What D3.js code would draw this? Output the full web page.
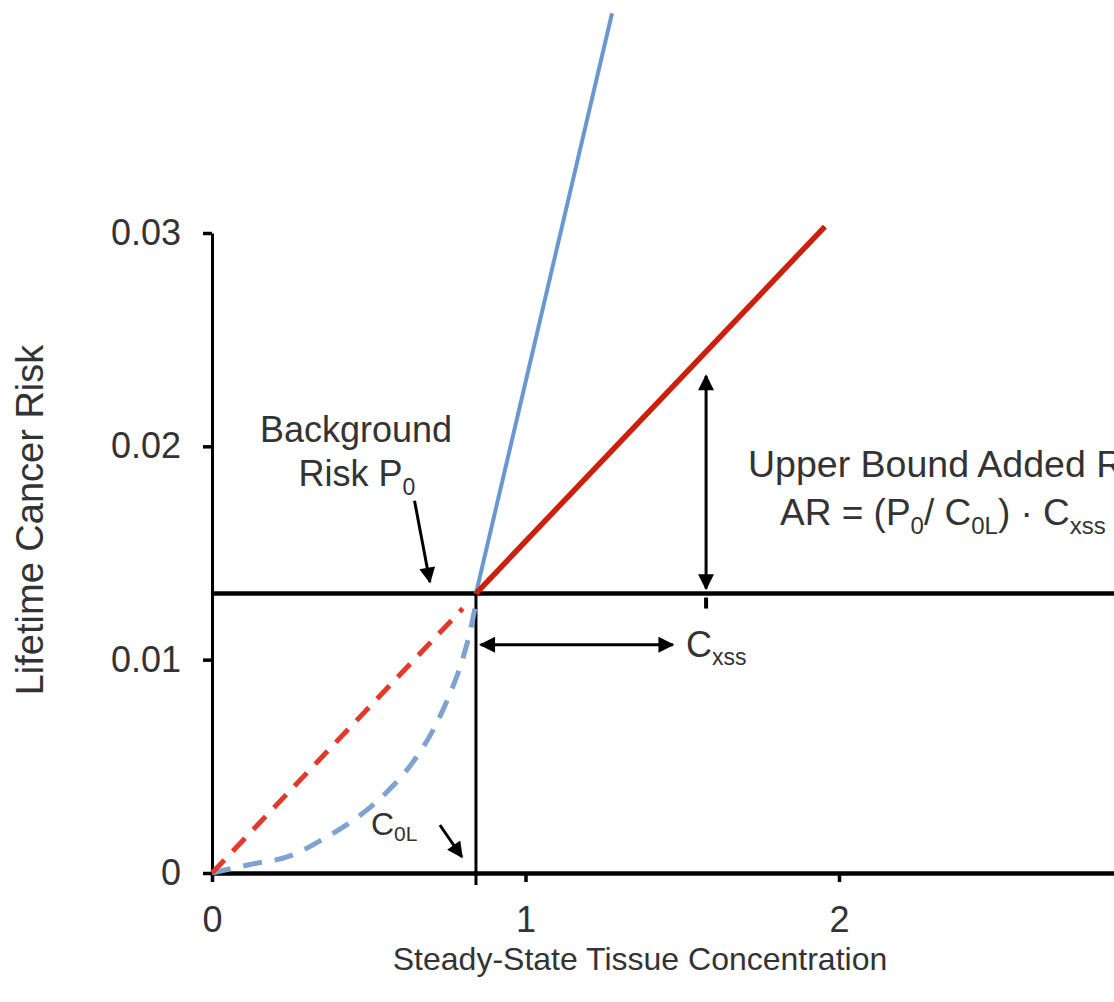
<!DOCTYPE html>
<html>
<head>
<meta charset="utf-8">
<script src="https://cdn.jsdelivr.net/npm/d3@7"></script>
<style>
    body { margin: 0; background: #fff; }
    text { font-family: "Liberation Sans", Arial, sans-serif; fill: #333; }
</style>
</head>
<body>
<div id="chart"></div>
<script>

// * Values
var xTicks = [0, 1, 2];
var yTicks = [0, 0.01, 0.02, 0.03];
var yTickLabels = ["0", "0.01", "0.02", "0.03"];

var P0 = 0.0131;     // background risk
var C0L = 0.842;     // background tissue concentration

var redDashed = [[0, 0], [0.80, 0.0124]];
var redSolid = [[0.842, 0.0131], [1.955, 0.0303]];

var blueDashed = [[0, 0], [0.121, 0.0004], [0.249, 0.0008], [0.367, 0.0017], [0.463, 0.0026],
    [0.558, 0.0038], [0.641, 0.0052], [0.705, 0.0067], [0.759, 0.0084], [0.801, 0.0101],
    [0.829, 0.0117], [0.845, 0.0129]];
var blueSolid = [[0.842, 0.0131], [1.276, 0.0403]];

// annotation anchors (data units)
var arX = 1.576, arTop = 0.0233;
var cxssY = 0.0107, cxssFrom = 0.857, cxssTo = 1.47;


// * Svg
var width = 1114,
    height = 1002;

var svg = d3.select("#chart").append("svg")
    .attr("width", width)
    .attr("height", height);

// *  Scales
var x = d3.scaleLinear().domain([0, 3]).range([212, 212 + 3 * 313.5]);
var y = d3.scaleLinear().domain([0, 0.03]).range([873, 233]);

var line = d3.line()
    .x(function(d) { return x(d[0]); })
    .y(function(d) { return y(d[1]); });

var curve = d3.line()
    .x(function(d) { return x(d[0]); })
    .y(function(d) { return y(d[1]); })
    .curve(d3.curveMonotoneX);

// arrow head
svg.append("defs").append("marker")
    .attr("id", "head")
    .attr("viewBox", "0 0 10 10")
    .attr("refX", 9).attr("refY", 5)
    .attr("markerWidth", 19).attr("markerHeight", 16)
    .attr("markerUnits", "userSpaceOnUse")
    .attr("orient", "auto-start-reverse")
    .append("path")
    .attr("d", "M0,0 L10,5 L0,10 Z")
    .attr("fill", "#000");


// * Axes
var yAxis = svg.append("g")
    .attr("transform", "translate(" + x(0) + ",0)")
    .call(d3.axisLeft(y).tickValues(yTicks)
        .tickFormat(function(d, i) { return yTickLabels[i]; })
        .tickSize(9).tickSizeOuter(0).tickPadding(22));

var xAxis = svg.append("g")
    .attr("transform", "translate(0," + y(0) + ")")
    .call(d3.axisBottom(x).tickValues(xTicks)
        .tickFormat(d3.format("d"))
        .tickSize(9).tickSizeOuter(0).tickPadding(24));

yAxis.select(".domain").attr("stroke", "#000").attr("stroke-width", 3);
xAxis.select(".domain").attr("stroke", "#000").attr("stroke-width", 4.5);
svg.selectAll(".tick line").attr("stroke", "#000").attr("stroke-width", 3.5);
svg.selectAll(".tick text")
    .attr("fill", "#333")
    .style("font-size", "36px")
    .style("font-family", "'Liberation Sans', Arial, sans-serif");

// axis titles
svg.append("text")
    .attr("transform", "translate(43,520) rotate(-90)")
    .attr("text-anchor", "middle")
    .style("font-size", "38px")
    .text("Lifetime Cancer Risk");

svg.append("text")
    .attr("x", 640).attr("y", 970)
    .attr("text-anchor", "middle")
    .style("font-size", "32px")
    .text("Steady-State Tissue Concentration");


// * Reference lines
svg.append("line")
    .attr("x1", x(0)).attr("x2", width)
    .attr("y1", y(P0)).attr("y2", y(P0))
    .attr("stroke", "#000").attr("stroke-width", 4.5);

svg.append("line")
    .attr("x1", x(C0L)).attr("x2", x(C0L))
    .attr("y1", y(P0)).attr("y2", y(0) + 12)
    .attr("stroke", "#000").attr("stroke-width", 3);


// * Curves
svg.append("path").datum(blueDashed)
    .attr("d", curve)
    .attr("fill", "none")
    .attr("stroke", "#7ea3cf").attr("stroke-width", 5)
    .attr("stroke-dasharray", "19,13");

svg.append("path").datum(redDashed)
    .attr("d", line)
    .attr("fill", "none")
    .attr("stroke", "#e2392a").attr("stroke-width", 5)
    .attr("stroke-dasharray", "18,12");

svg.append("path").datum(blueSolid)
    .attr("d", line)
    .attr("fill", "none")
    .attr("stroke", "#6a97d0").attr("stroke-width", 4);

svg.append("path").datum(redSolid)
    .attr("d", line)
    .attr("fill", "none")
    .attr("stroke", "#cc1f0c").attr("stroke-width", 5.5);


// * Annotation arrows
function arrow(x1, y1, x2, y2, both) {
    var a = svg.append("line")
        .attr("x1", x1).attr("y1", y1)
        .attr("x2", x2).attr("y2", y2)
        .attr("stroke", "#000").attr("stroke-width", 3)
        .attr("marker-end", "url(#head)");
    if (both) a.attr("marker-start", "url(#head)");
}

arrow(x(arX), y(arTop), x(arX), y(P0) - 5, true);
arrow(x(cxssFrom), y(cxssY), x(cxssTo), y(cxssY), true);
arrow(x(0.646), y(0.01745), x(0.695), y(0.01364), false);
arrow(x(0.727), y(0.00225), x(0.797), y(0.00075), false);

// little tick under the P0 line
svg.append("line")
    .attr("x1", x(arX)).attr("x2", x(arX))
    .attr("y1", y(P0) + 4).attr("y2", y(P0) + 15)
    .attr("stroke", "#000").attr("stroke-width", 4);


// * Labels
svg.append("text")
    .attr("x", 356).attr("y", 442)
    .attr("text-anchor", "middle")
    .style("font-size", "36px")
    .text("Background");

var risk = svg.append("text")
    .attr("x", 357).attr("y", 486)
    .attr("text-anchor", "middle")
    .style("font-size", "36px");
risk.append("tspan").text("Risk P");
risk.append("tspan").attr("dy", 9).style("font-size", "23px").text("0");

// this label runs past the right edge, as in the source figure
svg.append("text")
    .attr("x", 748).attr("y", 477)
    .style("font-size", "37.5px")
    .text("Upper Bound Added Risk");

var ar = svg.append("text")
    .attr("x", 780).attr("y", 525)
    .style("font-size", "37px");
ar.append("tspan").text("AR = (P");
ar.append("tspan").attr("dy", 9).style("font-size", "24px").text("0");
ar.append("tspan").attr("dy", -9).text("/ C");
ar.append("tspan").attr("dy", 9).style("font-size", "24px").text("0L");
ar.append("tspan").attr("dy", -9).text(") \u00b7 C");
ar.append("tspan").attr("dy", 9).style("font-size", "24px").text("xss");

var cx = svg.append("text")
    .attr("x", 686).attr("y", 657)
    .style("font-size", "36px");
cx.append("tspan").text("C");
cx.append("tspan").attr("dy", 8).style("font-size", "23px").text("xss");

var c0 = svg.append("text")
    .attr("x", 371).attr("y", 835)
    .style("font-size", "32px");
c0.append("tspan").text("C");
c0.append("tspan").attr("dy", 6).style("font-size", "21px").text("0L");

</script>
</body>
</html>
